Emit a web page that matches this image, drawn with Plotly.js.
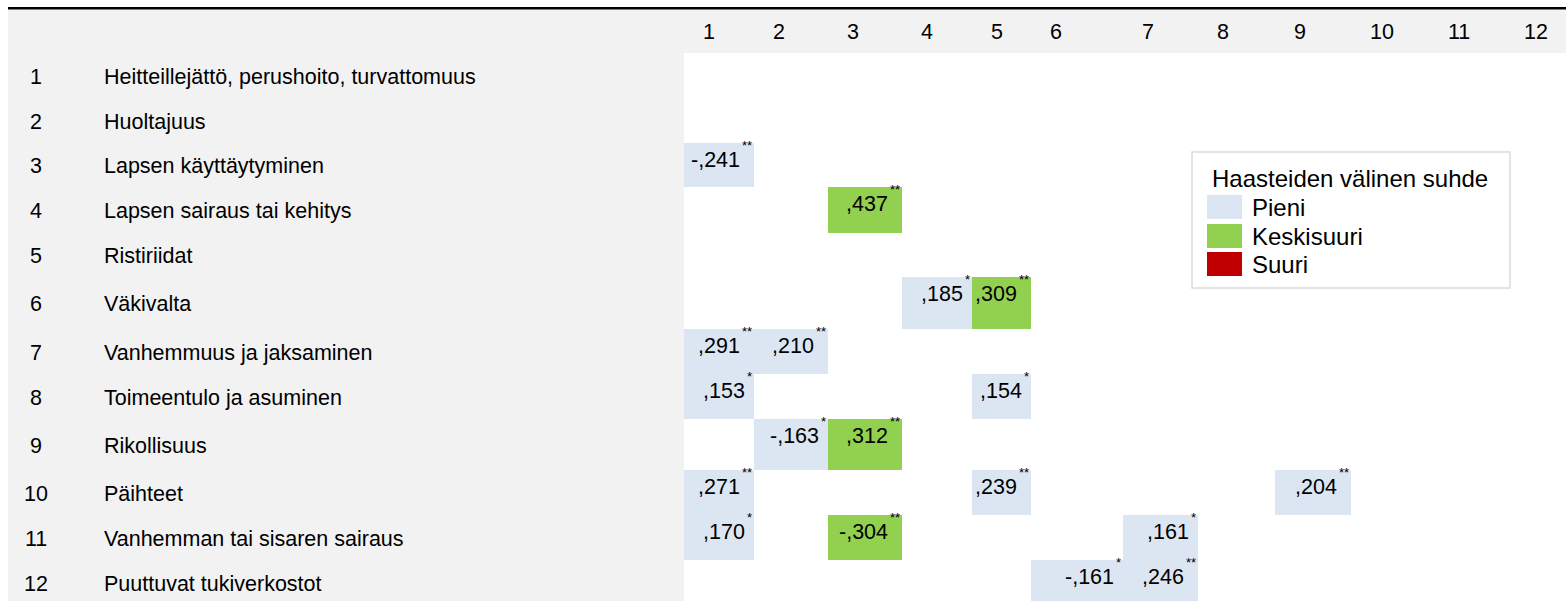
<!DOCTYPE html>
<html>
<head>
<meta charset="utf-8">
<script src="https://cdn.plot.ly/plotly-3.0.1.min.js"></script>
<style>html,body{margin:0;padding:0;background:#fff}#chart{width:1566px;height:601px}</style>
</head>
<body>
<div id="chart"></div>
<script>
// ---------- data ----------
const rowNums = ['1','2','3','4','5','6','7','8','9','10','11','12'];
const colNums = ['1','2','3','4','5','6','7','8','9','10','11','12'];
const rowLabels = [
  'Heitteillejättö, perushoito, turvattomuus',
  'Huoltajuus',
  'Lapsen käyttäytyminen',
  'Lapsen sairaus tai kehitys',
  'Ristiriidat',
  'Väkivalta',
  'Vanhemmuus ja jaksaminen',
  'Toimeentulo ja asuminen',
  'Rikollisuus',
  'Päihteet',
  'Vanhemman tai sisaren sairaus',
  'Puuttuvat tukiverkostot'
];
const pairRow   = [3, 4, 6, 6, 7, 7, 8, 8, 9, 9, 10, 10, 10, 11, 11, 11, 12, 12];
const pairCol   = [1, 3, 4, 5, 1, 2, 1, 5, 2, 3, 1, 5, 9, 1, 3, 7, 6, 7];
const pairValue = [-0.241, 0.437, 0.185, 0.309, 0.291, 0.210, 0.153, 0.154, -0.163, 0.312,
                   0.271, 0.239, 0.204, 0.170, -0.304, 0.161, -0.161, 0.246];
const pairSig   = ['**','**','*','**','**','**','*','*','*','**','**','**','**','*','**','*','*','**'];
const sizeLabels = ['Pieni', 'Keskisuuri', 'Suuri'];
const sizeLimits = [0.3, 0.5];
const legendTitle = 'Haasteiden välinen suhde';

// ---------- layout constants (positions / styles) ----------
const W = 1566, H = 601;
const colEdges = [684, 754, 828, 902, 972, 1031, 1123, 1198, 1275, 1351, 1429, 1505, 1566];
const rowEdges = [53, 99, 143, 187, 233, 277, 329, 374, 419, 470, 515, 560, 605];
const sizeColors = ['#dce6f2', '#92d050', '#c00000'];
const FONT = 'Liberation Sans, Arial, sans-serif';
const GRAY = '#f2f2f2';
const TXT = 21.5, STAR = 13, LEG = 24;

function sizeClass(v) {
  const a = Math.abs(v);
  if (a < sizeLimits[0]) return 1;
  if (a < sizeLimits[1]) return 2;
  return 3;
}
function fmt(v) {
  const s = String(Math.round(Math.abs(v) * 1000)).padStart(3, '0');
  return (v < 0 ? '-' : '') + ',' + s;
}

// z matrix
const z = rowNums.map(() => colNums.map(() => null));
pairRow.forEach((r, i) => { z[r - 1][pairCol[i] - 1] = sizeClass(pairValue[i]); });

const heat = {
  type: 'heatmap',
  x: colEdges, y: rowEdges, z: z,
  zmin: 1, zmax: 3,
  colorscale: [[0, sizeColors[0]], [0.25, sizeColors[0]], [0.25, sizeColors[1]], [0.75, sizeColors[1]], [0.75, sizeColors[2]], [1, sizeColors[2]]],
  showscale: false, hoverinfo: 'skip', xgap: 0, ygap: 0
};

const annotations = [];
// header numbers
colNums.forEach((c, j) => {
  annotations.push({x: colEdges[j], y: 31.5, xref: 'x', yref: 'y', text: c, showarrow: false,
    xanchor: 'left', yanchor: 'middle', xshift: 17, font: {family: FONT, size: TXT, color: '#000'}});
});
// row numbers + labels
rowLabels.forEach((lab, i) => {
  const yc = (rowEdges[i] + rowEdges[i + 1]) / 2;
  annotations.push({x: 36, y: yc + 1, xref: 'x', yref: 'y', text: rowNums[i], showarrow: false,
    xanchor: 'center', yanchor: 'middle', font: {family: FONT, size: TXT, color: '#000'}});
  annotations.push({x: 102, y: yc + 1, xref: 'x', yref: 'y', text: lab, showarrow: false,
    xanchor: 'left', yanchor: 'middle', font: {family: FONT, size: TXT, color: '#000'}});
});
// cell values + significance stars
pairRow.forEach((r, i) => {
  const c = pairCol[i];
  const xr = colEdges[c];
  const yt = rowEdges[r - 1];
  const starW = pairSig[i].length * 0.389 * STAR;
  annotations.push({x: xr, y: yt + 17, xref: 'x', yref: 'y', text: fmt(pairValue[i]), showarrow: false,
    xanchor: 'right', yanchor: 'middle', xshift: -(starW + 2), font: {family: FONT, size: TXT, color: '#000'}});
  annotations.push({x: xr, y: yt, xref: 'x', yref: 'y', text: pairSig[i], showarrow: false,
    xanchor: 'right', yanchor: 'top', xshift: 0, yshift: 7, font: {family: FONT, size: STAR, color: '#000'}});
});

// legend (drawn)
const LX0 = 1192, LX1 = 1510, LY0 = 152, LY1 = 288;
annotations.push({x: 1210, y: 178, xref: 'x', yref: 'y', text: legendTitle, showarrow: false,
  xanchor: 'left', yanchor: 'middle', font: {family: FONT, size: LEG, color: '#000'}});
const legendY = [207, 236, 264];
const shapes = [
  {type: 'rect', xref: 'x', yref: 'y', x0: 8, x1: W, y0: 9.5, y1: H, fillcolor: GRAY, line: {width: 0}, layer: 'below'},
  {type: 'rect', xref: 'x', yref: 'y', x0: 8, x1: W, y0: 7, y1: 9.5, fillcolor: '#000', line: {width: 0}, layer: 'below'},
  {type: 'rect', xref: 'x', yref: 'y', x0: colEdges[0], x1: W, y0: rowEdges[0], y1: H, fillcolor: '#fff', line: {width: 0}, layer: 'below'},
  {type: 'rect', xref: 'x', yref: 'y', x0: LX0, x1: LX1, y0: LY0, y1: LY1, fillcolor: '#fff', line: {width: 1.5, color: '#dcdcdc'}, layer: 'above'}
];
sizeLabels.forEach((lab, k) => {
  shapes.push({type: 'rect', xref: 'x', yref: 'y', x0: 1207, x1: 1242, y0: legendY[k] - 12, y1: legendY[k] + 12,
    fillcolor: sizeColors[k], line: {width: 0}, layer: 'above'});
  annotations.push({x: 1250, y: legendY[k], xref: 'x', yref: 'y', text: lab, showarrow: false,
    xanchor: 'left', yanchor: 'middle', font: {family: FONT, size: LEG, color: '#000'}});
});

const layout = {
  width: W, height: H,
  margin: {l: 0, r: 0, t: 0, b: 0, autoexpand: false},
  paper_bgcolor: '#fff', plot_bgcolor: '#fff',
  xaxis: {range: [0, W], visible: false, fixedrange: true},
  yaxis: {range: [H, 0], visible: false, fixedrange: true},
  showlegend: false,
  shapes: shapes,
  annotations: annotations,
  font: {family: FONT}
};

Plotly.newPlot('chart', [heat], layout, {displayModeBar: false, staticPlot: true});
</script>
</body>
</html>
